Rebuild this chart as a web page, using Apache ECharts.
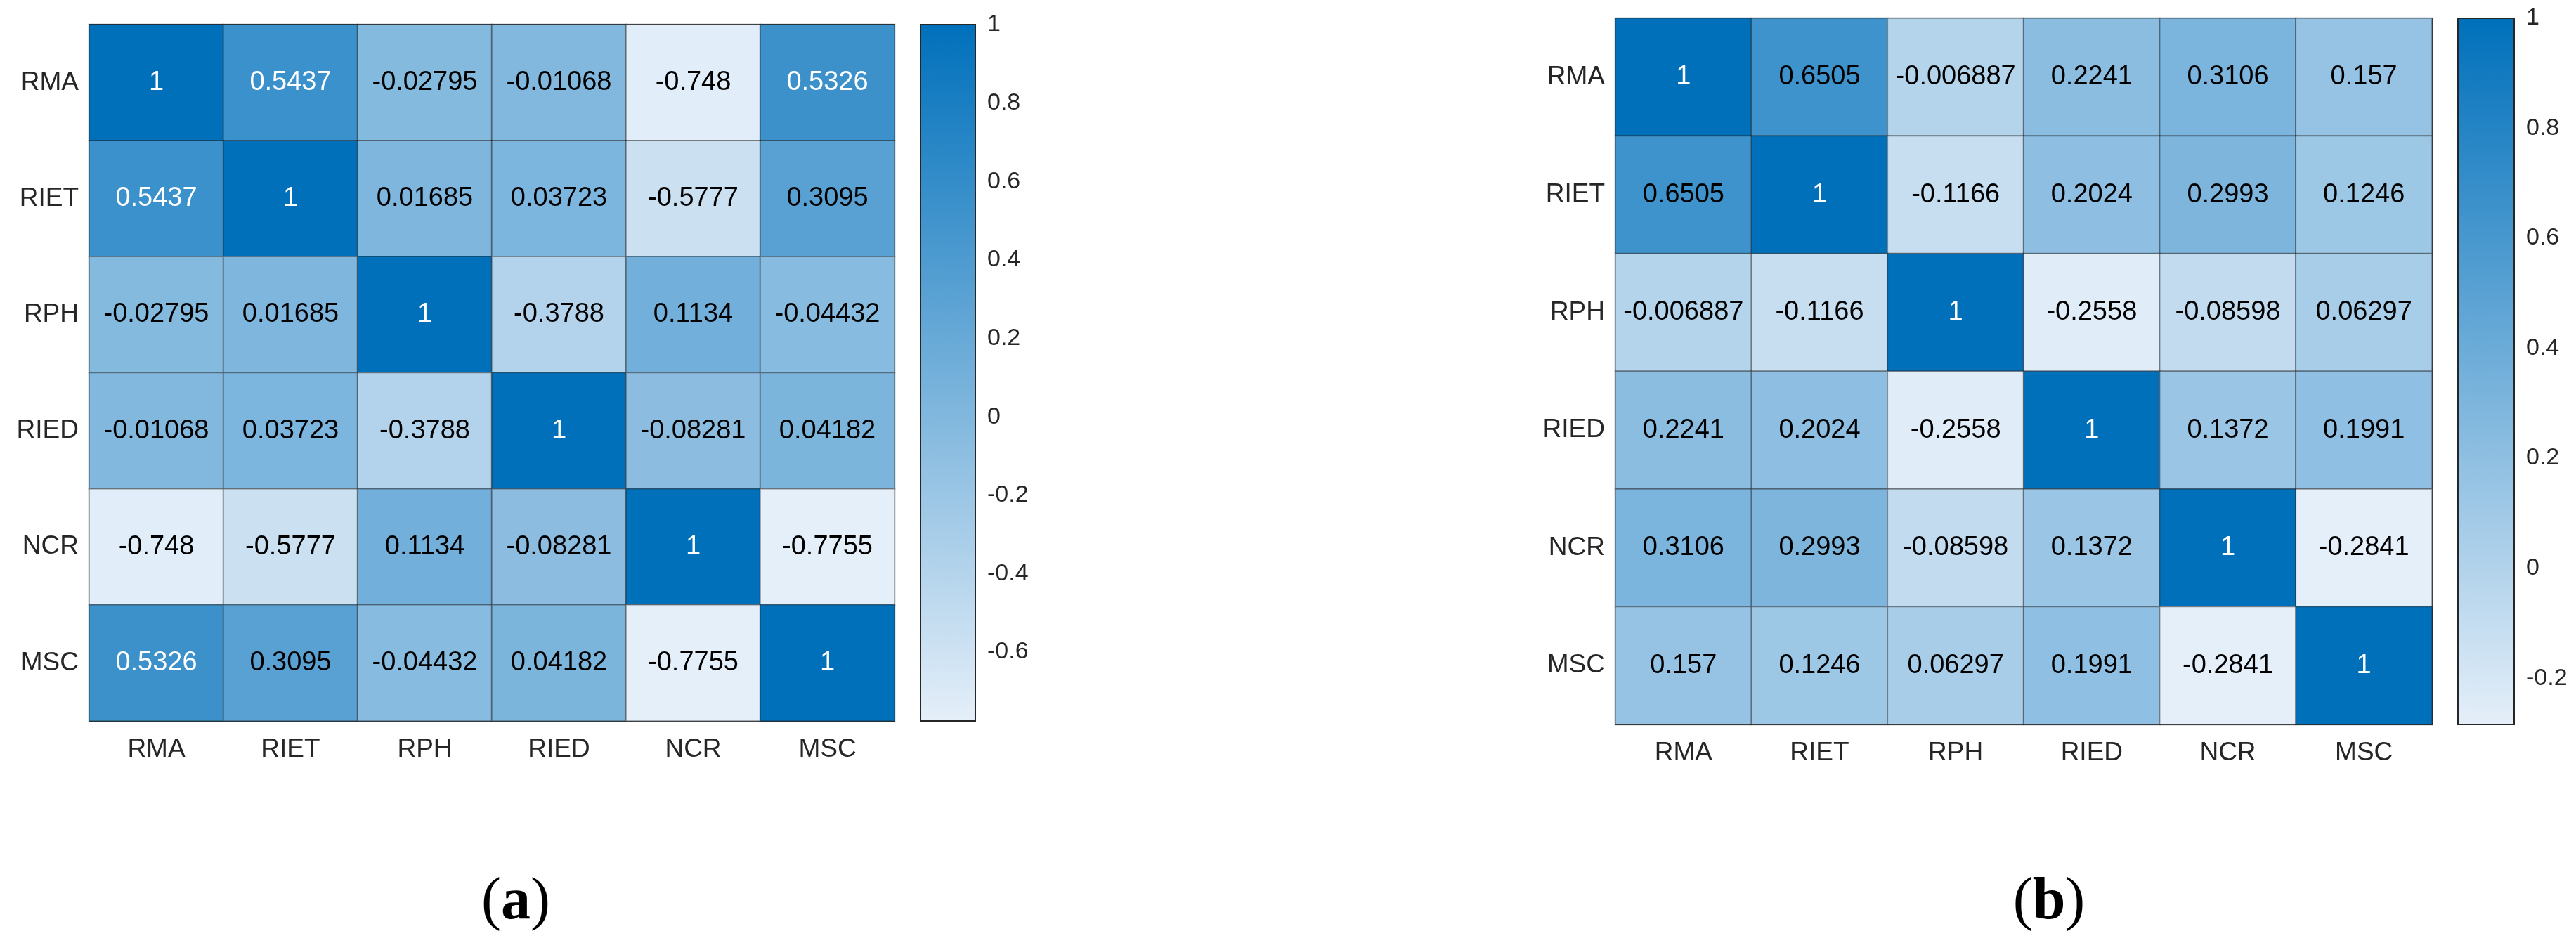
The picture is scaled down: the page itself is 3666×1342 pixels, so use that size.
<!DOCTYPE html>
<html>
<head>
<meta charset="utf-8">
<script src="https://cdn.jsdelivr.net/npm/echarts@6/dist/echarts.min.js"></script>
<style>html,body{margin:0;padding:0;background:#fff;}#c{width:3666px;height:1342px;}</style>
</head>
<body>
<div id="c"></div>
<script>
const categories = ['RMA', 'RIET', 'RPH', 'RIED', 'NCR', 'MSC'];
const valuesA = [
  [1, 0.5437, -0.02795, -0.01068, -0.748, 0.5326],
  [0.5437, 1, 0.01685, 0.03723, -0.5777, 0.3095],
  [-0.02795, 0.01685, 1, -0.3788, 0.1134, -0.04432],
  [-0.01068, 0.03723, -0.3788, 1, -0.08281, 0.04182],
  [-0.748, -0.5777, 0.1134, -0.08281, 1, -0.7755],
  [0.5326, 0.3095, -0.04432, 0.04182, -0.7755, 1]
];
const valuesB = [
  [1, 0.6505, -0.006887, 0.2241, 0.3106, 0.157],
  [0.6505, 1, -0.1166, 0.2024, 0.2993, 0.1246],
  [-0.006887, -0.1166, 1, -0.2558, -0.08598, 0.06297],
  [0.2241, 0.2024, -0.2558, 1, 0.1372, 0.1991],
  [0.3106, 0.2993, -0.08598, 0.1372, 1, -0.2841],
  [0.157, 0.1246, 0.06297, 0.1991, -0.2841, 1]
];
const colorbarTicksA = [-0.6, -0.4, -0.2, 0, 0.2, 0.4, 0.6, 0.8, 1];
const colorbarTicksB = [-0.2, 0, 0.2, 0.4, 0.6, 0.8, 1];
const panelLabels = ['a', 'b'];

const LIGHT = '#E5EFF9';
const DARK = '#0070BB';
const FONT = 'Liberation Sans';
const TXT = '#262626';

function fmt(v) { return String(Number(v.toPrecision(4))); }

function buildData(values, min, max) {
  const out = [];
  values.forEach((row, yi) => {
    row.forEach((v, xi) => {
      const n = (v - min) / (max - min);
      out.push({ value: [xi, yi, v], label: { color: n > 0.735 ? '#ffffff' : '#000000' } });
    });
  });
  return out;
}

const minA = Math.min(...valuesA.flat()), maxA = Math.max(...valuesA.flat());
const minB = Math.min(...valuesB.flat()), maxB = Math.max(...valuesB.flat());

const grids = [
  { left: 127, top: 35, width: 1146, height: 991 },
  { left: 1310, top: 35, width: 78, height: 991 },
  { left: 2299, top: 26, width: 1162, height: 1005 },
  { left: 3498, top: 26, width: 80, height: 1005 }
];

function catX(gi, pos, showLabels, lineColor) {
  return {
    type: 'category', gridIndex: gi, data: categories, position: pos,
    axisTick: { show: false },
    axisLine: { show: true, lineStyle: { color: lineColor, width: 2 } },
    axisLabel: { show: showLabels, fontFamily: FONT, fontSize: 37, color: TXT, margin: 22 },
    splitLine: { show: false }
  };
}
function catY(gi, pos, showLabels, lineColor) {
  return {
    type: 'category', gridIndex: gi, data: categories, inverse: true, position: pos,
    axisTick: { show: false },
    axisLine: { show: true, lineStyle: { color: lineColor, width: 2 } },
    axisLabel: { show: showLabels, fontFamily: FONT, fontSize: 37, color: TXT, margin: 15 },
    splitLine: { show: false }
  };
}
function cbX(gi) {
  return { type: 'category', gridIndex: gi, data: ['cb'], show: false };
}
function cbY(gi, min, max, ticks) {
  return {
    type: 'value', gridIndex: gi, min: min, max: max, position: 'right',
    axisLine: { show: false },
    splitLine: { show: false },
    axisTick: { show: true, inside: true, length: 11, lineStyle: { color: TXT, width: 2 }, customValues: ticks },
    axisLabel: { show: true, fontFamily: FONT, fontSize: 34, color: TXT, margin: 17, customValues: ticks,
      formatter: v => fmt(v) }
  };
}

function cbSeries(xi, yi, min, max) {
  return {
    type: 'custom', xAxisIndex: xi, yAxisIndex: yi, silent: true,
    data: [[0, min, max]],
    renderItem: function (params, api) {
      const pTop = api.coord([0, api.value(2)]);
      const pBot = api.coord([0, api.value(1)]);
      const w = api.size([1, 0])[0];
      return {
        type: 'rect',
        shape: { x: pTop[0] - w / 2, y: pTop[1], width: w, height: pBot[1] - pTop[1] },
        style: {
          fill: new echarts.graphic.LinearGradient(0, 0, 0, 1, [
            { offset: 0, color: DARK }, { offset: 1, color: LIGHT }
          ]),
          stroke: TXT, lineWidth: 2
        }
      };
    }
  };
}

function heatSeries(xi, yi, values, min, max) {
  return {
    type: 'heatmap', xAxisIndex: xi, yAxisIndex: yi,
    data: buildData(values, min, max),
    label: { show: true, fontFamily: FONT, fontSize: 38, formatter: p => fmt(p.value[2]) },
    itemStyle: { borderColor: 'rgba(38,38,38,0.45)', borderWidth: 2 },
    emphasis: { disabled: true }
  };
}

const chart = echarts.init(document.getElementById('c'));
chart.setOption({
  animation: false,
  backgroundColor: '#ffffff',
  title: panelLabels.map((t, i) => ({
    text: '{n|(}{b|' + t + '}{n|)}',
    left: i === 0 ? 729 : 2911,
    top: 1238,
    textAlign: 'center',
    textStyle: {
      fontWeight: 'normal',
      rich: {
        n: { fontFamily: 'Liberation Serif', fontSize: 84, fontWeight: 'normal', color: '#000' },
        b: { fontFamily: 'Liberation Serif', fontSize: 84, fontWeight: 'bold', color: '#000' }
      }
    }
  })),
  grid: grids,
  xAxis: [
    catX(0, 'bottom', true, TXT), catX(0, 'top', false, TXT), cbX(1),
    catX(2, 'bottom', true, TXT), catX(2, 'top', false, TXT), cbX(3)
  ],
  yAxis: [
    catY(0, 'left', true, '#c8c8c8'), catY(0, 'right', false, TXT), cbY(1, minA, maxA, colorbarTicksA),
    catY(2, 'left', true, '#c8c8c8'), catY(2, 'right', false, TXT), cbY(3, minB, maxB, colorbarTicksB)
  ],
  visualMap: [
    { type: 'continuous', show: false, seriesIndex: 0, min: minA, max: maxA, dimension: 2, inRange: { color: [LIGHT, DARK] } },
    { type: 'continuous', show: false, seriesIndex: 2, min: minB, max: maxB, dimension: 2, inRange: { color: [LIGHT, DARK] } }
  ],
  series: [
    heatSeries(0, 0, valuesA, minA, maxA),
    cbSeries(2, 2, minA, maxA),
    heatSeries(3, 3, valuesB, minB, maxB),
    cbSeries(5, 5, minB, maxB)
  ]
});
</script>
</body>
</html>
